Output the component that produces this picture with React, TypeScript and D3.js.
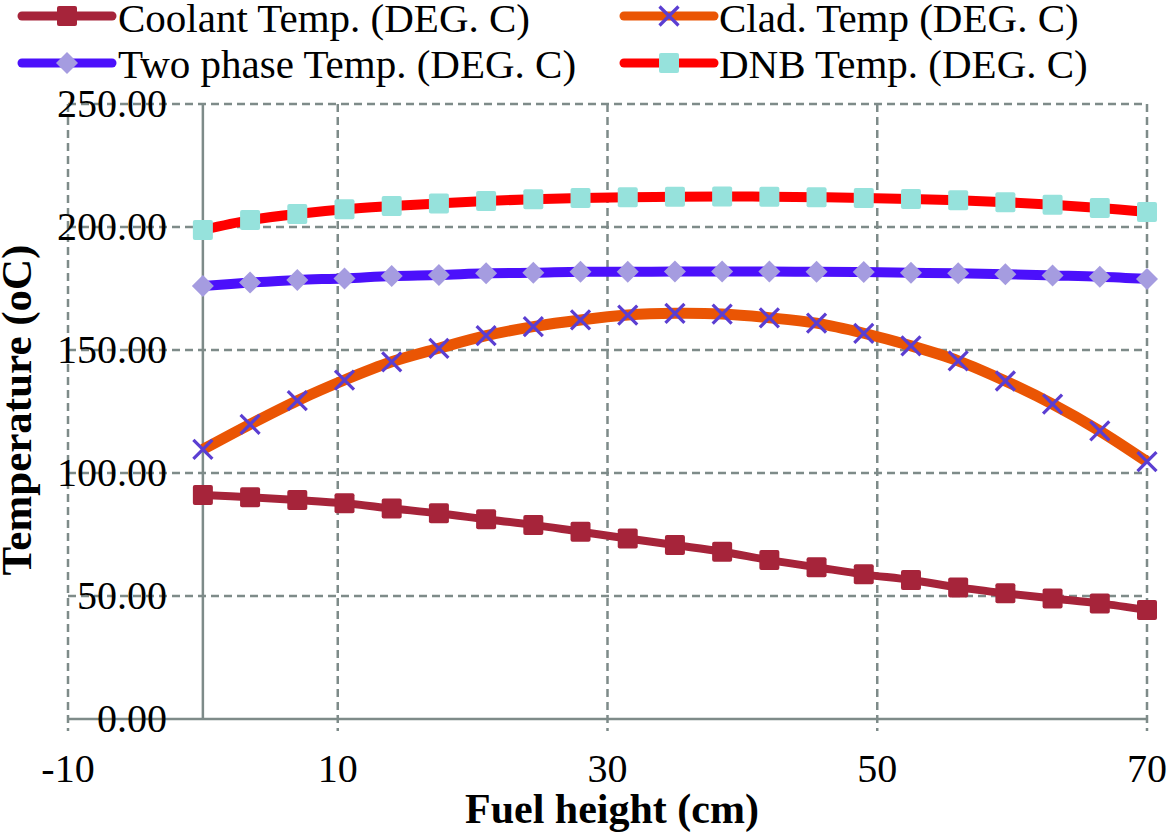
import React from "react";
import * as d3 from "d3";

const heights = [0, 3.5, 7, 10.5, 14, 17.5, 21, 24.5, 28, 31.5, 35, 38.5, 42, 45.5, 49, 52.5, 56, 59.5, 63, 66.5, 70];
const coolant = [91.1, 90.1, 89.0, 87.7, 85.6, 83.6, 81.2, 78.9, 76.1, 73.4, 70.7, 68.0, 64.6, 61.7, 58.8, 56.5, 53.5, 51.1, 49.0, 47.0, 44.3];
const clad = [109.6, 119.8, 129.4, 137.8, 145.2, 150.7, 155.8, 159.5, 162.2, 164.2, 164.9, 164.6, 163.1, 160.9, 156.8, 151.7, 145.6, 137.4, 128.0, 117.1, 104.6];
const twoPhase = [176.0, 177.4, 178.5, 179.1, 180.1, 180.5, 181.2, 181.4, 181.8, 181.8, 181.9, 181.9, 181.9, 181.8, 181.7, 181.4, 181.2, 180.8, 180.3, 179.8, 178.9];
const dnb = [198.8, 202.8, 205.3, 207.2, 208.5, 209.6, 210.6, 211.3, 211.8, 212.1, 212.3, 212.4, 212.3, 212.1, 211.8, 211.4, 210.9, 210.1, 209.0, 207.7, 206.1];

const xTicks = [-10, 10, 30, 50, 70];
const yTicks = [0, 50, 100, 150, 200, 250];

const seriesNames = ["Coolant Temp. (DEG. C)", "Clad. Temp (DEG. C)", "Two phase Temp. (DEG. C)", "DNB Temp. (DEG. C)"];

type Marker = "square" | "x" | "diamond" | "bigsquare";
const series: { name: string; values: number[]; line: string; width: number; marker: Marker; mfill: string }[] = [
  { name: seriesNames[0], values: coolant, line: "#A6243A", width: 8, marker: "square", mfill: "#A6243A" },
  { name: seriesNames[1], values: clad, line: "#EA5504", width: 11, marker: "x", mfill: "#5B3ED2" },
  { name: seriesNames[2], values: twoPhase, line: "#4B10FB", width: 10, marker: "diamond", mfill: "#A59CE0" },
  { name: seriesNames[3], values: dnb, line: "#FF0000", width: 10, marker: "bigsquare", mfill: "#96E2DC" },
];

const FONT = "'Liberation Serif', 'Times New Roman', serif";
const GRID = "#7E8B89";

function MarkerShape({ kind, cx, cy, fill }: { kind: Marker; cx: number; cy: number; fill: string }) {
  if (kind === "square" || kind === "bigsquare") {
    const s = 20;
    return <rect x={cx - s / 2} y={cy - s / 2} width={s} height={s} rx={2} fill={fill} />;
  }
  if (kind === "diamond") {
    const r = 11;
    return <path d={`M${cx},${cy - r}L${cx + r},${cy}L${cx},${cy + r}L${cx - r},${cy}Z`} fill={fill} />;
  }
  const r = 9.5;
  return (
    <path
      d={`M${cx - r},${cy - r}L${cx + r},${cy + r}M${cx - r},${cy + r}L${cx + r},${cy - r}`}
      stroke={fill}
      strokeWidth={3.2}
      fill="none"
    />
  );
}

export default function App() {
  const x = d3.scaleLinear().domain([-10, 70]).range([68, 1147]);
  const y = d3.scaleLinear().domain([0, 250]).range([719, 104]);

  const line = d3
    .line<number>()
    .x((_, i) => x(heights[i]))
    .y((v) => y(v))
    .curve(d3.curveCatmullRom.alpha(0.5));

  const legendPos = [
    { lx: 22, tx: 118, ly: 16, ty: 32 },
    { lx: 624, tx: 719, ly: 16, ty: 32 },
    { lx: 22, tx: 118, ly: 63, ty: 78 },
    { lx: 624, tx: 719, ly: 63, ty: 78 },
  ];

  return (
    <svg width={1168} height={839} style={{ position: "absolute", left: 0, top: 0, background: "#fff" }}>
      {/* horizontal gridlines */}
      {yTicks.map((t) => (
        <line
          key={"h" + t}
          x1={x(-10)}
          x2={x(70)}
          y1={y(t)}
          y2={y(t)}
          stroke={GRID}
          strokeWidth={2.5}
          strokeDasharray={t === 0 ? undefined : "8,5"}
        />
      ))}
      {/* vertical gridlines */}
      {xTicks.map((t) => (
        <line
          key={"v" + t}
          x1={x(t)}
          x2={x(t)}
          y1={y(250)}
          y2={y(0) + 12}
          stroke={GRID}
          strokeWidth={2.5}
          strokeDasharray="8,5"
        />
      ))}
      {/* y axis at x=0 */}
      <line x1={x(0)} x2={x(0)} y1={y(250)} y2={y(0)} stroke={GRID} strokeWidth={2.5} />

      {/* y tick labels */}
      {yTicks.map((t) => (
        <text key={"yl" + t} x={167} y={y(t) + 13} textAnchor="end" fontFamily={FONT} fontSize={40} fill="#000">
          {t.toFixed(2)}
        </text>
      ))}
      {/* x tick labels */}
      {xTicks.map((t) => (
        <text key={"xl" + t} x={x(t)} y={782} textAnchor="middle" fontFamily={FONT} fontSize={40} fill="#000">
          {t}
        </text>
      ))}

      {/* series */}
      {series.map((s) => (
        <g key={s.name}>
          <path d={line(s.values) || ""} fill="none" stroke={s.line} strokeWidth={s.width} strokeLinejoin="round" />
          {s.values.map((v, i) => (
            <MarkerShape key={i} kind={s.marker} cx={x(heights[i])} cy={y(v)} fill={s.mfill} />
          ))}
        </g>
      ))}

      {/* axis titles */}
      <text x={612} y={823} textAnchor="middle" fontFamily={FONT} fontWeight="bold" fontSize={42} fill="#000">
        Fuel height (cm)
      </text>
      <text
        transform="translate(31,410) rotate(-90)"
        textAnchor="middle"
        fontFamily={FONT}
        fontWeight="bold"
        fontSize={43}
        fill="#000"
      >
        Temperature (oC)
      </text>

      {/* legend */}
      {series.map((s, i) => {
        const p = legendPos[i];
        return (
          <g key={"lg" + i}>
            <line x1={p.lx} x2={p.lx + 90} y1={p.ly} y2={p.ly} stroke={s.line} strokeWidth={9} strokeLinecap="round" />
            <MarkerShape kind={s.marker} cx={p.lx + 45} cy={p.ly} fill={s.mfill} />
            <text x={p.tx} y={p.ty} fontFamily={FONT} fontSize={41} fill="#000">
              {s.name}
            </text>
          </g>
        );
      })}
    </svg>
  );
}
